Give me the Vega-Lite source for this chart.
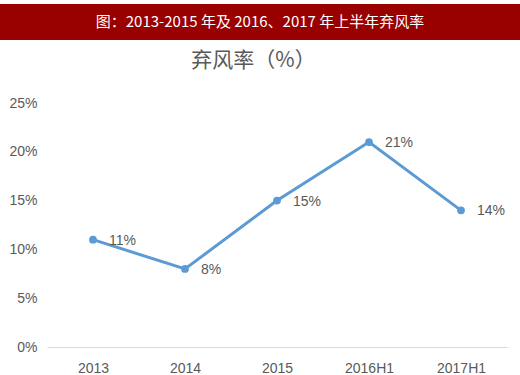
{
  "$schema": "https://vega.github.io/schema/vega-lite/v6.json",
  "background": "white",
  "padding": {"left": 0, "top": 4, "right": 0, "bottom": 0},
  "spacing": 63,
  "bounds": "flush",
  "config": {"view": {"stroke": null}, "font": "Liberation Sans"},
  "vconcat": [
    {
      "width": 520,
      "height": 36,
      "view": {"fill": "#990000", "stroke": null},
      "data": {"values": [{"t": "图：2013-2015 年及 2016、2017 年上半年弃风率"}]},
      "mark": {"type": "text", "color": "white", "font": "Noto Sans CJK SC", "fontSize": 15, "fontWeight": "normal", "align": "center", "baseline": "middle"},
      "encoding": {
        "text": {"field": "t"},
        "x": {"datum": 0.5, "scale": {"domain": [0, 1]}, "axis": null},
        "y": {"datum": 0.5, "scale": {"domain": [0, 1]}, "axis": null}
      }
    },
    {
      "width": 507,
      "height": 244,
      "title": {"text": "弃风率（%）", "font": "Noto Sans CJK SC", "fontSize": 21, "fontWeight": "normal", "color": "#595959", "anchor": "middle", "frame": "group", "offset": 25},
      "data": {"values": [
        {"year": "2013", "rate": 0.11, "label": "11%"},
        {"year": "2014", "rate": 0.08, "label": "8%"},
        {"year": "2015", "rate": 0.15, "label": "15%"},
        {"year": "2016H1", "rate": 0.21, "label": "21%"},
        {"year": "2017H1", "rate": 0.14, "label": "14%"}
      ]},
      "encoding": {
        "x": {"field": "year", "type": "ordinal", "sort": null, "scale": {"type": "point", "padding": 0.5, "range": [47, 507]},
          "axis": {"title": null, "labelAngle": 0, "labelFontSize": 14, "labelColor": "#595959", "domainColor": "#d9d9d9", "ticks": false, "labelPadding": 14, "grid": false}},
        "y": {"field": "rate", "type": "quantitative", "scale": {"domain": [0, 0.25]},
          "axis": {"title": null, "format": ".0%", "values": [0, 0.05, 0.1, 0.15, 0.2, 0.25], "labelFontSize": 14, "labelColor": "#595959", "domain": false, "ticks": false, "grid": false, "labelPadding": 10, "offset": -47}}
      },
      "layer": [
        {"mark": {"type": "line", "color": "#5b9bd5", "strokeWidth": 3}},
        {"mark": {"type": "point", "filled": true, "color": "#5b9bd5", "size": 60, "opacity": 1}},
        {"mark": {"type": "text", "align": "left", "baseline": "middle", "dx": 16, "dy": 1, "fontSize": 14, "color": "#595959"},
          "encoding": {"text": {"field": "label"}}}
      ]
    }
  ]
}
